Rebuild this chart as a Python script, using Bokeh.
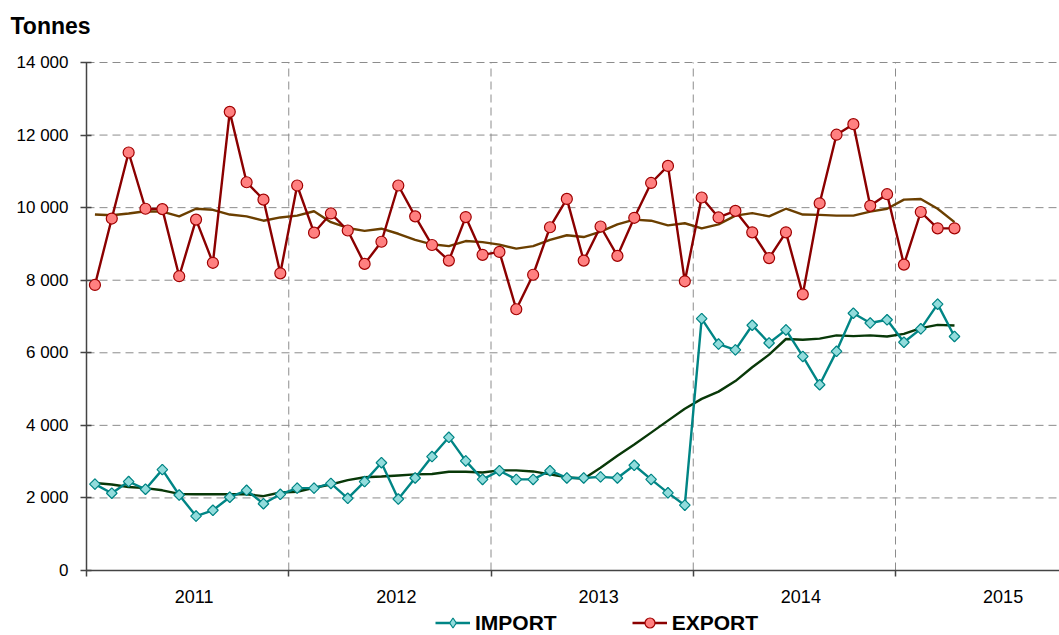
import math
from bokeh.plotting import figure
from bokeh.models import FixedTicker, Legend, LegendItem, Range1d, Label
from bokeh.embed import file_html
from bokeh.resources import INLINE

# Monthly data, Jan 2011 .. Apr 2015 (52 months)
months = list(range(52))

export_vals = [7870, 9700, 11520, 9970, 9960, 8110, 9670, 8480, 12640, 10700,
               10220, 8190, 10610, 9310, 9840, 9370, 8450, 9060, 10610, 9760,
               8970, 8540, 9740, 8700, 8780, 7200, 8150, 9460, 10240, 8540,
               9480, 8670, 9720, 10680, 11150, 7970, 10280, 9730, 9910, 9320,
               8610, 9320, 7610, 10120, 12010, 12300, 10050, 10370, 8430, 9880,
               9430, 9430]

export_trend = [9810, 9790, 9840, 9900, 9890, 9760, 9970, 9940, 9810, 9760,
                9640, 9730, 9780, 9900, 9600, 9440, 9360, 9420, 9280, 9110,
                8990, 8940, 9080, 9050, 8980, 8870, 8940, 9110, 9240, 9190,
                9340, 9540, 9670, 9640, 9510, 9570, 9430, 9540, 9780, 9850,
                9760, 9970, 9810, 9800, 9780, 9780, 9890, 9970, 10220, 10240,
                9970, 9600]

import_vals = [2380, 2130, 2450, 2240, 2780, 2080, 1500, 1660, 2020, 2210,
               1840, 2100, 2270, 2270, 2400, 1990, 2450, 2970, 1970, 2550,
               3140, 3670, 3020, 2510, 2750, 2510, 2510, 2750, 2550, 2550,
               2580, 2550, 2900, 2510, 2140, 1800, 6940, 6240, 6080, 6760,
               6270, 6630, 5900, 5120, 6040, 7090, 6820, 6910, 6290, 6660,
               7340, 6450]

import_trend = [2410, 2370, 2300, 2270, 2210, 2110, 2100, 2100, 2100, 2100,
                2050, 2150, 2170, 2280, 2370, 2490, 2570, 2590, 2620, 2650,
                2660, 2720, 2720, 2700, 2760, 2760, 2730, 2650, 2570, 2530,
                2830, 3160, 3470, 3800, 4130, 4460, 4730, 4930, 5220, 5600,
                5950, 6380, 6360, 6390, 6480, 6460, 6480, 6450, 6520, 6680,
                6770, 6750]

years = ["2011", "2012", "2013", "2014", "2015"]
y_ticks = [0, 2000, 4000, 6000, 8000, 10000, 12000, 14000]
y_labels = ["0", "2 000", "4 000", "6 000", "8 000", "10 000", "12 000", "14 000"]

FONT = "Liberation Sans"
W, H = 1059, 635

# Layout: plot area (axes) from px x=86..W, y=62 (14000) .. 570 (0)
PX_LEFT, PX_TOP, PX_BOTTOM = 86, 62, 570
px_per_month = (895 - 86) / 48.0
px_per_unit = (PX_BOTTOM - PX_TOP) / 14000.0

x_start = -0.5 - PX_LEFT / px_per_month
x_end = -0.5 + (W - PX_LEFT) / px_per_month
y_end = 14000 + PX_TOP / px_per_unit
y_start = -(H - PX_BOTTOM) / px_per_unit

p = figure(width=W, height=H, output_backend="svg", toolbar_location=None,
           x_range=Range1d(x_start, x_end), y_range=Range1d(y_start, y_end),
           min_border=0)
p.outline_line_color = None
p.background_fill_color = "white"
p.border_fill_color = "white"
p.grid.visible = False

label_shift = 6.5 / px_per_month  # year labels sit slightly right of mid-year
year_centers = [12 * k + 5.5 + label_shift for k in range(len(years))]
year_bounds = [12 * k - 0.5 for k in range(len(years) + 1)]

# Grid lines (dashed), limited to the plot area
p.segment(x0=year_bounds[0], x1=x_end, y0=y_ticks[1:], y1=y_ticks[1:],
          line_color="#8c8c8c", line_dash="8 5", line_width=1)
p.segment(x0=year_bounds[1:5], x1=year_bounds[1:5], y0=0, y1=14000,
          line_color="#8c8c8c", line_dash="8 5", line_width=1)

# Axes fixed inside the canvas
xa = p.xaxis[0]
xa.fixed_location = 0
xa.bounds = (year_bounds[0], x_end)
xa.ticker = FixedTicker(ticks=year_centers, minor_ticks=year_bounds)
xa.major_label_overrides = {c: y for c, y in zip(year_centers, years)}
xa.major_tick_line_color = None
xa.major_tick_in = 0
xa.major_tick_out = 7
xa.minor_tick_in = 0
xa.minor_tick_out = 6
xa.minor_tick_line_color = "#444444"
xa.minor_tick_line_width = 1.5
xa.axis_line_color = "#444444"
xa.axis_line_width = 1.5
xa.major_label_text_font = FONT
xa.major_label_text_font_size = "18px"
xa.major_label_text_color = "black"
xa.major_label_standoff = 12

ya = p.yaxis[0]
ya.fixed_location = year_bounds[0]
ya.bounds = (0, 14000)
ya.ticker = FixedTicker(ticks=y_ticks)
ya.major_label_overrides = {t: l for t, l in zip(y_ticks, y_labels)}
ya.minor_tick_line_color = None
ya.major_tick_in = 5
ya.major_tick_out = 6
ya.major_tick_line_color = "#444444"
ya.major_tick_line_width = 1.5
ya.axis_line_color = "#444444"
ya.axis_line_width = 1.5
ya.major_label_text_font = FONT
ya.major_label_text_font_size = "17px"
ya.major_label_text_color = "black"
ya.major_label_standoff = 12

# Title "Tonnes" at top-left
title = Label(x=x_start + 10 / px_per_month, y=y_end - 25 / px_per_unit,
              text="Tonnes", text_font=FONT, text_font_size="23px",
              text_font_style="bold", text_color="black",
              text_baseline="middle", text_align="left")
p.add_layout(title)

# Trend lines
p.line(months, export_trend, line_color="#6b3f00", line_width=2.4)
p.line(months, import_trend, line_color="#083808", line_width=2.4)

# Series
imp_line = p.line(months, import_vals, line_color="#008585", line_width=2.4)
imp_diamond = p.scatter(months, import_vals, marker="diamond", size=10,
                        fill_color="#92dcdc", line_color="#008585",
                        line_width=1.2)
imp_mark = p.scatter(months, import_vals, marker="square", angle=math.pi / 4,
                     size=7.5, fill_color="#92dcdc", line_color="#008585",
                     line_width=1.2)
exp_line = p.line(months, export_vals, line_color="#8b0000", line_width=2.4)
exp_mark = p.scatter(months, export_vals, marker="circle", size=11,
                     fill_color="#ff8080", line_color="#a00000", line_width=1.2)

legend = Legend(items=[LegendItem(label="IMPORT", renderers=[imp_line, imp_diamond]),
                       LegendItem(label="EXPORT", renderers=[exp_line, exp_mark])],
                orientation="horizontal", location=(435, 0),
                glyph_width=35, glyph_height=25, label_standoff=5, spacing=75,
                padding=0, margin=0, border_line_color=None,
                background_fill_alpha=0,
                label_text_font=FONT, label_text_font_size="21px",
                label_text_font_style="bold", label_text_color="black")
p.add_layout(legend, "center")

open("out.html", "w").write(file_html(p, INLINE))
